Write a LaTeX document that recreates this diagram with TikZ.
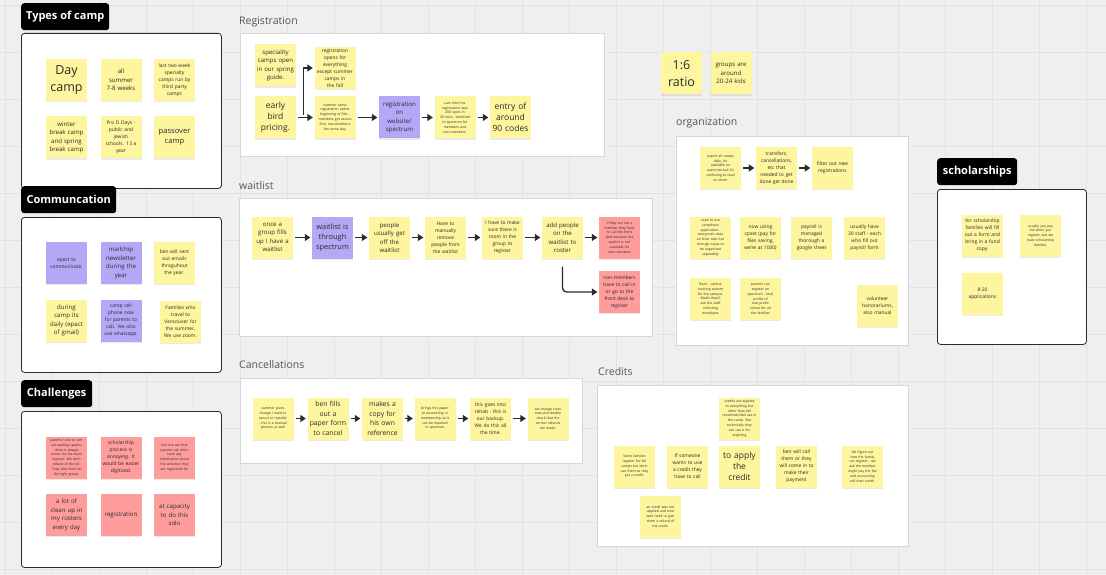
\documentclass[tikz,border=0pt]{standalone}
\usepackage{fontspec}
\setmainfont{Open Sans}
\usetikzlibrary{arrows.meta,shadows,calc}
\definecolor{bg}{HTML}{EFEFEF}
\definecolor{gridc}{HTML}{E2E2E2}
\definecolor{yel}{HTML}{FEF59F}
\definecolor{pur}{HTML}{B5A7F6}
\definecolor{rd}{HTML}{FF9C9C}
\definecolor{ink}{HTML}{2A2A2A}
\definecolor{ttlc}{HTML}{555555}
\definecolor{frc}{HTML}{D6D6D6}
\tikzset{
  note/.style={minimum width=41pt, minimum height=42pt, text width=38pt, inner sep=1.5pt, align=center, text=ink,
     drop shadow={shadow xshift=0.3pt, shadow yshift=-1.3pt, opacity=0.16}},
  Y/.style={note, fill=yel},
  P/.style={note, fill=pur},
  R/.style={note, fill=rd},
  fA/.style={font=\fontsize{12.5}{17}\selectfont},
  fB/.style={font=\fontsize{8.5}{11}\selectfont},
  fC/.style={font=\fontsize{6.8}{9.4}\selectfont},
  fD/.style={font=\fontsize{6.1}{8.5}\selectfont},
  fE/.style={font=\fontsize{4.9}{7}\selectfont},
  fF/.style={font=\fontsize{3.4}{4.8}\selectfont},
  darkframe/.style={draw=ink, line width=0.8pt, fill=white, rounded corners=3pt, anchor=north west, inner sep=0pt},
  lightframe/.style={draw=frc, line width=0.6pt, fill=white, anchor=north west, inner sep=0pt},
  blabel/.style={fill=black, text=white, font=\bfseries\fontsize{11}{13}\selectfont, rounded corners=3pt,
     anchor=north west, minimum height=27pt, inner xsep=4pt},
  stitle/.style={text=ttlc, font=\fontsize{10.5}{12}\selectfont, inner sep=0pt, anchor=west},
  arr/.style={draw=ink, line width=1.3pt, -{Triangle[length=5.5pt,width=7pt]}, shorten <=2pt, shorten >=1.5pt},
}
\begin{document}
\begin{tikzpicture}[x=1pt,y=-1pt]
\useasboundingbox (0,0) rectangle (1106,575);
\fill[bg] (0,0) rectangle (1106,575);
\foreach \g in {5,52,...,1106} \draw[gridc, line width=0.6pt] (\g,0) -- (\g,575);
\foreach \g in {5,52,...,575} \draw[gridc, line width=0.6pt] (0,\g) -- (1106,\g);

% ---------- frames ----------
\node[darkframe, minimum width=200pt, minimum height=155pt] (fTypes) at (21,33) {};
\node[darkframe, minimum width=200pt, minimum height=155pt] (fComm) at (21,217) {};
\node[darkframe, minimum width=200pt, minimum height=156pt] (fChal) at (21,411) {};
\node[darkframe, minimum width=149pt, minimum height=155pt] (fSchol) at (937,189) {};
\node[lightframe, minimum width=364pt, minimum height=123pt] (fReg) at (240,33) {};
\node[lightframe, minimum width=413pt, minimum height=138pt] (fWait) at (239,198) {};
\node[lightframe, minimum width=342pt, minimum height=85pt] (fCanc) at (240,378) {};
\node[lightframe, minimum width=311pt, minimum height=161pt] (fCred) at (597,385) {};
\node[lightframe, minimum width=232pt, minimum height=209pt] (fOrg) at (676,136) {};

% ---------- labels ----------
\node[blabel, minimum width=88pt] (lTypes) at (21,3) {Types of camp};
\node[blabel, minimum width=95pt] (lComm) at (21,186) {Communcation};
\node[blabel, minimum width=71pt] (lChal) at (21,380) {Challenges};
\node[blabel, minimum width=80pt] (lSchol) at (937,158) {scholarships};
\node[stitle] (tReg) at (239,22) {Registration};
\node[stitle] (tWait) at (239,186) {waitlist};
\node[stitle] (tCanc) at (239,365) {Cancellations};
\node[stitle] (tCred) at (598,372) {Credits};
\node[stitle] (tOrg) at (676,123) {organization};

% ---------- types of camp ----------
\node[Y,fA] (t1) at (66.5,80) {Day\\camp};
\node[Y,fD] (t2) at (121,80) {all\\summer\\7-8 weeks};
\node[Y,fE] (t3) at (174.5,80) {last two week\\specialty\\camps run by\\third party\\camps};
\node[Y,fD] (t4) at (66.5,137.5) {winter\\break camp\\and spring\\break camp};
\node[Y,fE] (t5) at (121,137.5) {Pro D Days -\\public and\\jewish\\schools. 13 a\\year};
\node[Y,font=\fontsize{7.6}{10.3}\selectfont] (t6) at (174.5,137.5) {passover\\camp};

% ---------- communication ----------
\node[P,fE] (c1) at (66.5,263) {epect to\\communicate.};
\node[P,fD] (c2) at (121,263) {mailchip\\newsletter\\during the\\year};
\node[Y,fE] (c3) at (174.5,263) {ben will sent\\out emails\\throguhout\\the year.};
\node[Y,fD] (c4) at (66.5,320.5) {during\\camp its\\daily (epact\\of gmail)};
\node[P,fE] (c5) at (121,320.5) {camp cell\\phone now\\for parents to\\call. We also\\use whatsapp.};
\node[Y,fE] (c6) at (180.5,322) {Families who\\travel to\\Vancouver for\\the summer,\\We use zoom.};

% ---------- challenges ----------
\node[R,fF] (h1) at (66.5,457.5) {parents have to sort\\out waiting spaces,\\there is always\\issues for the main\\register. We don't\\refund of the kit.\\They take them to\\the right group.};
\node[R,fE] (h2) at (121,457.5) {scholarship\\process is\\annoying. It\\would be easier\\digitized.};
\node[R,fF] (h3) at (174.5,457.5) {the one ask that\\parents ask don't\\have any\\information about\\the activities they\\are registered for};
\node[R,fD] (h4) at (66.5,515) {a lot of\\clean up in\\my rosters\\every day};
\node[R,fD] (h5) at (121,515) {registration};
\node[R,fD] (h6) at (174.5,515) {at capacity\\to do this\\solo};

% ---------- registration ----------
\node[Y,fD] (r1) at (275.5,65.5) {speciality\\camps open\\in our spring\\guide.};
\node[Y,fE] (r2) at (335,68) {registration\\opens for\\everything\\except summer\\camps in the fall};
\node[Y,fB] (r3) at (275.5,117.5) {early\\bird\\pricing.};
\node[Y,fF] (r4) at (335,117.5) {summer camp\\registration opens\\beginning of Feb -\\members get access\\first, non-members\\the same day.};
\node[P,fD] (r5) at (399.5,117.5) {registration\\on\\website/\\spectrum};
\node[Y,fF] (r6) at (455,117.5) {Last time the\\registration was\\200 spots in\\90 mins. Switched\\to spectrum for\\members and\\non-members.};
\node[Y,fB] (r7) at (510.5,117.5) {entry of\\around\\90 codes};
\draw[arr] (r3.east) -- (r4.west);
\draw[arr] ($(r3.east)+(7,0)$) |- (r2.west);
\draw[arr] (r4.east) -- (r5.west);
\draw[arr] (r5.east) -- (r6.west);
\draw[arr] (r6.east) -- (r7.west);

% ---------- waitlist ----------
\node[Y,fD] (w1) at (272.5,237.5) {once a\\group fills\\up I have a\\waitlist};
\node[P,font=\fontsize{7.4}{10.3}\selectfont] (w2) at (332.5,237.5) {waitlist is\\through\\spectrum};
\node[Y,fD] (w3) at (389.5,237.5) {people\\usually get\\off the\\waitlist};
\node[Y,fE] (w4) at (445.5,237.5) {Have to\\manually\\remove\\people from\\the waitlist};
\node[Y,fE] (w5) at (502.5,237.5) {I have to make\\sure there is\\room in the\\group to\\register};
\node[Y,fD] (w6) at (562.5,237.5) {add people\\on the\\waitlist to\\roster};
\node[R,fF] (w7) at (619.5,237.5) {If they are not a\\member they have\\to call the front\\desk because the\\waitlist is not\\available for\\non-members};
\node[R,fE] (w8) at (619.5,292) {non-members\\have to call in\\or go to the\\front desk to\\register};
\draw[arr] (w1.east) -- (w2.west);
\draw[arr] (w2.east) -- (w3.west);
\draw[arr] (w3.east) -- (w4.west);
\draw[arr] (w4.east) -- (w5.west);
\draw[arr] (w5.east) -- (w6.west);
\draw[arr] (w6.east) -- (w7.west);
\draw[arr, rounded corners=4pt, shorten <=8pt] (w6.south) |- (w8.west);

% ---------- cancellations ----------
\node[Y,fF] (k1) at (273,418.5) {summer plans\\change I need to\\cancel or transfer\\- this is a manual\\process as well};
\node[Y,fC] (k2) at (328,418.5) {ben fills\\out a\\paper form\\to cancel};
\node[Y,fC] (k3) at (382.5,418.5) {makes a\\copy for\\his own\\reference};
\node[Y,fF] (k4) at (435,418.5) {brings this paper\\to accounting or\\membership so it\\can be inputted\\in spectrum};
\node[Y,fE] (k5) at (490.5,418.5) {this goes into\\rehab - this is\\our backup.\\We do this all\\the time.};
\node[Y,fF] (k6) at (548,418.5) {we change rules\\now and double\\check that the\\correct refunds\\are made.};
\draw[arr] (k1.east) -- (k2.west);
\draw[arr] (k2.east) -- (k3.west);
\draw[arr] (k3.east) -- (k4.west);
\draw[arr] (k4.east) -- (k5.west);
\draw[arr] (k5.east) -- (k6.west);

% ---------- credits ----------
\node[Y,fF] (d1) at (739.5,418.5) {credits are applied\\to everything but\\other than fall\\recommended use in\\the camp. But\\technically they\\can use it for\\anything};
\node[Y,fF] (d2) at (634.5,466.5) {Some families\\register for fall\\camps but don't\\use them so they\\get a credit.};
\node[Y,fE] (d3) at (687.5,466.5) {If someone\\wants to use\\a credit they\\have to call};
\node[Y,fB] (d4) at (739.5,466.5) {to apply\\the\\credit};
\node[Y,fE] (d5) at (796.5,466.5) {ben will call\\them or they\\will come in to\\make their\\payment};
\node[Y,fF] (d6) at (862.5,466.5) {We figure out\\how the family\\can register - we\\ask the member\\might pay the fee\\and accounting\\will then credit.};
\node[Y,fF] (d7) at (660.5,516.5) {an credit was not\\applied and now\\we'll need to give\\them a refund of\\the credit.};

% ---------- ratio ----------
\node[Y,fA] (q1) at (681.5,73.5) {1:6\\ratio};
\node[Y,fD] (q2) at (731,73.5) {groups are\\around\\20-24 kids};

% ---------- organization ----------
\node[Y,fF] (o1) at (720.5,168) {export all camps\\daily, it's\\available on\\spectrum but it's\\confusing to read\\on there};
\node[Y,fE] (o2) at (776.5,168) {transfers,\\cancellations,\\etc that\\needed to get\\done get done};
\node[Y,fE] (o3) at (832.5,168) {filter out new\\registrations};
\node[Y,fF] (o4) at (710.5,237.5) {used to use\\campbrain\\application -\\everyone's data\\on their own but\\through cases to\\be organized\\separately};
\node[Y,fE] (o5) at (760.5,237.5) {now using\\cpest (pay for\\files saving,\\we're at 1000)};
\node[Y,fE] (o6) at (811.5,237.5) {payroll is\\managed\\thorough a\\google sheet};
\node[Y,fE] (o7) at (864.5,237.5) {usually have\\30 staff - each\\who fill out\\payroll form};
\node[Y,fF] (o8) at (710.5,299) {Bach - central\\housing system\\for the campus.\\Meals they'll\\ask the staff\\collecting\\envelopes};
\node[Y,fF] (o9) at (760.5,299) {parents can\\register on\\spectrum - total\\profile of\\everyone's\\voices for all\\the families};
\node[Y,fE] (o10) at (877.5,306) {volunteer\\honorariums,\\also manual};
\draw[arr] (o1.east) -- (o2.west);
\draw[arr] (o2.east) -- (o3.west);

% ---------- scholarships ----------
\node[Y,fE] (s1) at (982.5,235.5) {for scholarship\\families will fill\\out a form and\\bring in a fund\\copy.};
\node[Y,fF] (s2) at (1040.5,235.5) {usually you pay\\full when you\\register, but we\\have scholarship\\families.};
\node[Y,fE] (s3) at (982.5,293.5) {8-20\\applications};
\end{tikzpicture}
\end{document}
